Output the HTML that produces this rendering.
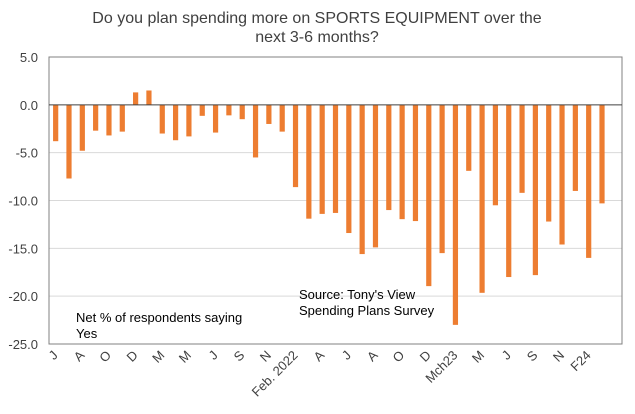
<!DOCTYPE html>
<html><head><meta charset="utf-8"><style>
body{margin:0;background:#fff;}
svg{font-family:"Liberation Sans",Arial,sans-serif;display:block;}
</style></head><body>
<svg id="chart" width="635" height="414" viewBox="0 0 635 414">
<text x="317" y="23" text-anchor="middle" font-size="16" fill="#404040">Do you plan spending more on SPORTS EQUIPMENT over the</text>
<text x="317" y="42" text-anchor="middle" font-size="16" fill="#404040">next 3-6 months?</text>
<g id="grid"></g><g id="bars"></g><g id="axes"></g>
<text x="76" y="322" font-size="13" fill="#000">Net % of respondents saying</text>
<text x="76" y="338" font-size="13" fill="#000">Yes</text>
<text x="299" y="299" font-size="13" fill="#000">Source: Tony's View</text>
<text x="299" y="315" font-size="13" fill="#000">Spending Plans Survey</text>
</svg>
<script>
const values=[-3.8,-7.7,-4.8,-2.7,-3.2,-2.8,1.3,1.5,-3.0,-3.7,-3.3,-1.15,-2.9,-1.1,-1.5,-5.5,-2.0,-2.8,-8.6,-11.9,-11.4,-11.3,-13.4,-15.6,-14.9,-11.0,-11.95,-12.15,-18.95,-15.5,-23.0,-6.9,-19.65,-10.5,-18.0,-9.2,-17.8,-12.2,-14.6,-9.0,-16.0,-10.3];
const xLabels=["J","","A","","O","","D","","M","","M","","J","","S","","N","","Feb. 2022","","A","","J","","A","","O","","D","","Mch23","","M","","J","","S","","N","","F24",""];
const yTicks=[5,0,-5,-10,-15,-20,-25];
const NS="http://www.w3.org/2000/svg";
const L=49,R=622,T=57,B=344,yMin=-25,yMax=5,slots=43;
const step=(R-L)/slots;
const y=v=>T+(yMax-v)/(yMax-yMin)*(B-T);
const x=i=>L+(i+0.5)*step;
function mk(tag,attrs,parent){const e=document.createElementNS(NS,tag);for(const k in attrs)e.setAttribute(k,attrs[k]);document.getElementById(parent).appendChild(e);return e;}
yTicks.forEach(t=>{
  if(t!==0&&t!==yMin&&t!==yMax){const g=mk('line',{x1:L,x2:R,y1:y(t),y2:y(t),stroke:'#d9d9d9','stroke-width':1},'grid');
  
  }
  const tx=mk('text',{x:38,y:y(t)+5,'text-anchor':'end','font-size':13,fill:'#404040'},'axes');
  tx.textContent=t.toFixed(1);
  
  
});
values.forEach((v,i)=>{
  const y0=y(0),yv=y(v);
  const b=mk('rect',{x:x(i)-2.6,y:Math.min(y0,yv),width:5.2,height:Math.abs(yv-y0),fill:'#ED7D31'},'bars');
  
  
});
const frame=mk('rect',{x:L,y:T,width:R-L,height:B-T,fill:'none',stroke:'#808080','stroke-width':1},'axes');


const zl=mk('line',{x1:L,x2:R,y1:y(0),y2:y(0),stroke:'#404040','stroke-width':1},'axes');


xLabels.forEach((lab,i)=>{
  if(!lab)return;
  const cx=x(i)+3,cy=B+12;
  const t=mk('text',{x:cx,y:cy,'text-anchor':'end','font-size':13,fill:'#404040',transform:`rotate(-45 ${cx} ${cy})`},'axes');
  t.textContent=lab;
  
  
});
</script>
</body></html>
